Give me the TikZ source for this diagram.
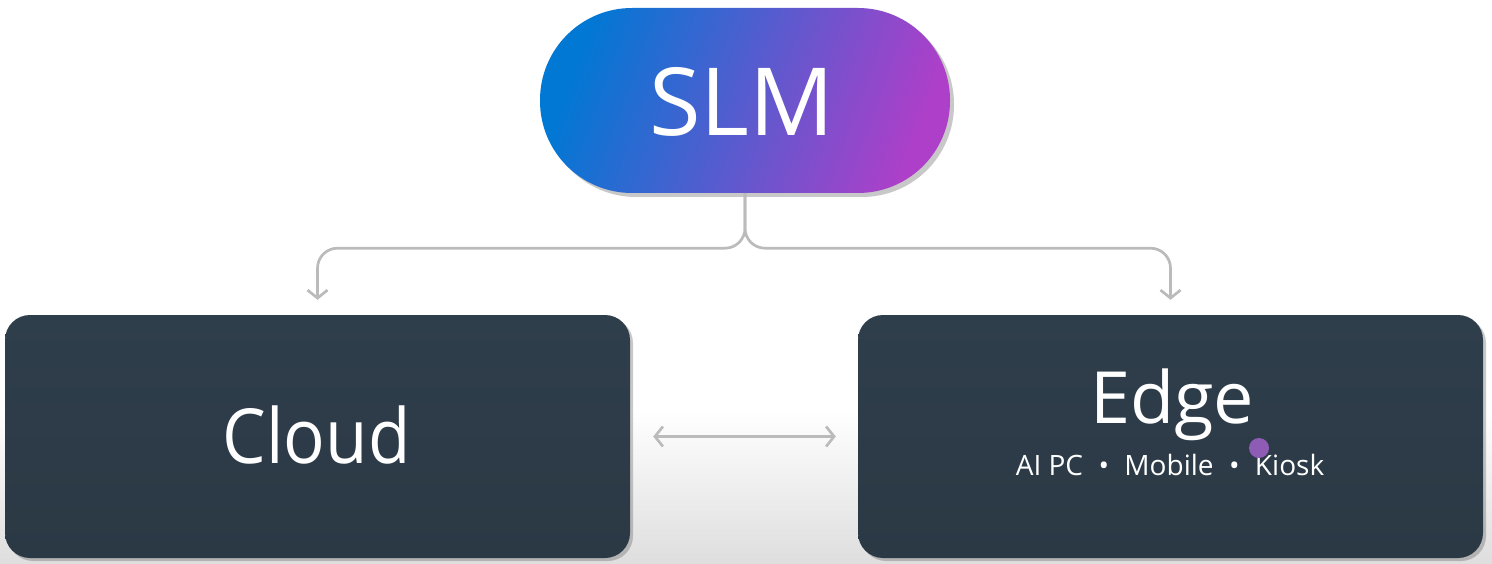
\documentclass[tikz,border=0pt]{standalone}
\usepackage{fontspec}
\setmainfont{Open Sans}
\newfontfamily\uifont{Open Sans}
\newfontfamily\uinarrow[FakeStretch=0.91]{Open Sans}
\usetikzlibrary{arrows.meta,shadows,positioning}
\definecolor{boxtop}{HTML}{2F3E4B}
\definecolor{boxbot}{HTML}{2A3944}
\definecolor{pillL}{HTML}{0078D4}
\definecolor{pillR}{HTML}{AE3FC9}
\definecolor{linegray}{HTML}{BBBBBB}
\definecolor{bgbot}{HTML}{DEDEDE}
\definecolor{dotpurple}{HTML}{8E5CB5}
\tikzset{
  darkbox/.style={rectangle, rounded corners=25pt, minimum width=625pt, minimum height=243pt,
    top color=boxtop, bottom color=boxbot, draw=none,
    drop shadow={shadow xshift=3pt, shadow yshift=-3pt, opacity=0.3, fill=black!70}},
  pill/.style={rectangle, rounded corners=92pt, minimum width=410pt, minimum height=185pt,
    left color=pillL, right color=pillR, shading angle=70, draw=none,
    drop shadow={shadow xshift=4pt, shadow yshift=-4pt, opacity=0.3, fill=black!70}},
  tipstyle/.style={},
  conn/.style={draw=linegray, line width=2.7pt, -{Straight Barb[length=8pt,width=20pt,line width=2.7pt]}},
  biconn/.style={draw=linegray, line width=2.7pt, {Straight Barb[length=8pt,width=20pt,line width=2.7pt]}-{Straight Barb[length=8pt,width=20pt,line width=2.7pt]}},
  whitetxt/.style={text=white, inner sep=0pt, font=\uifont},
}
\begin{document}
\begin{tikzpicture}[x=1pt,y=-1pt]
\useasboundingbox (0,0) rectangle (1492,564);
\fill[white] (0,0) rectangle (1492,410);
\shade[top color=white, bottom color=bgbot] (0,410) rectangle (1492,564);

\node[pill] (slm) at (745,100.5) {};
\node[whitetxt, font=\uifont\fontsize{94}{94}\selectfont] (slmtxt) at (742,102) {SLM};

\node[darkbox] (cloud) at (317.5,436.5) {};
\node[darkbox] (edge) at (1170.5,436.5) {};

\node[whitetxt, font=\uinarrow\fontsize{76}{76}\selectfont, anchor=base] (cloudtxt) at (316.5,463) {Cloud};
\node[whitetxt, font=\uifont\fontsize{72}{72}\selectfont, anchor=base] (edgetxt) at (1172,423) {Edge};
\node[whitetxt, font=\uifont\fontsize{28}{28}\selectfont, anchor=base] (edgesub) at (1170,475)
  {AI PC\hspace{0.55em}•\hspace{0.55em}Mobile\hspace{0.55em}•\hspace{0.55em}Kiosk};

\coordinate (cloudin) at ([yshift=15pt]cloud.north);
\coordinate (edgein) at ([yshift=15pt]edge.north);
\coordinate (split) at ([yshift=-55pt]slm.south);

\draw[conn, rounded corners=20pt] (slm.south) -- (split) -| (cloudin);
\draw[conn, rounded corners=20pt] (slm.south) -- (split) -| (edgein);

\draw[biconn, shorten <=23pt, shorten >=22pt] (cloud.east) -- (edge.west);

\fill[dotpurple] (1259,448) circle (10);
\end{tikzpicture}
\end{document}
